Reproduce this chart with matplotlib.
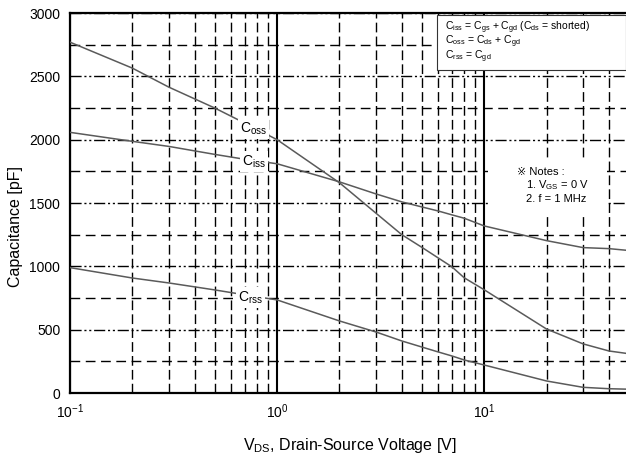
import matplotlib
matplotlib.use('Agg')
import matplotlib.pyplot as plt
from matplotlib.ticker import MultipleLocator, LogLocator, NullFormatter

plt.rcParams['font.family'] = ['Liberation Sans', 'DejaVu Sans']
plt.rcParams['mathtext.default'] = 'regular'

# values
voltage = [0.1, 0.2, 0.3, 0.5, 0.7, 1, 2, 3, 4, 5, 6, 7, 8, 10, 20, 30, 40, 50]
c_oss = [2770, 2565, 2415, 2250, 2130, 2000, 1660, 1420, 1250, 1150, 1066, 995, 910, 815, 505, 388, 332, 310]
c_iss = [2058, 1987, 1947, 1884, 1845, 1810, 1667, 1572, 1509, 1469, 1437, 1406, 1380, 1319, 1203, 1148, 1140, 1125]
c_rss = [990, 908, 869, 814, 775, 735, 569, 482, 411, 363, 324, 292, 261, 221, 95, 45, 34, 30]

labels = ['C$_{oss}$', 'C$_{iss}$', 'C$_{rss}$']
label_pos = [(0.77, 2085), (0.77, 1828), (0.745, 752)]

fig = plt.figure(figsize=(6.26, 4.57), dpi=100)
ax = fig.add_axes([0.1118, 0.140, 0.893, 0.8315])

# curves
for serie in (c_oss, c_iss, c_rss):
    ax.plot(voltage, serie, color='#5a5a5a', lw=1.1, zorder=3)

ax.set_xscale('log')
ax.set_xlim(0.1, 50)
ax.set_ylim(0, 3000)

ax.yaxis.set_major_locator(MultipleLocator(500))
ax.yaxis.set_minor_locator(MultipleLocator(250))
ax.xaxis.set_major_locator(LogLocator(base=10))
ax.xaxis.set_minor_locator(LogLocator(base=10, subs=range(2, 10)))
ax.xaxis.set_minor_formatter(NullFormatter())

# grid, datasheet style
ax.grid(which='major', axis='x', color='black', lw=1.5, ls='-')
ax.grid(which='minor', axis='x', color='black', lw=1.0, ls=(0, (7, 3)))
ax.grid(which='major', axis='y', color='black', lw=1.0, ls=(0, (8, 2, 1.5, 2, 1.5, 2)))
ax.grid(which='minor', axis='y', color='black', lw=1.0, ls=(0, (7, 4)))

ax.tick_params(which='both', length=0, labelsize=10, pad=7)
for sp in ax.spines.values():
    sp.set_linewidth(1.6)

# curve labels (white box hides the line under it)
for lab, (px, py) in zip(labels, label_pos):
    ax.text(px, py, lab, fontsize=10, ha='center', va='center', zorder=5,
            bbox=dict(facecolor='white', edgecolor='none', pad=1.5))

# formula box
formulas = ['C$_{iss}$ = C$_{gs}$ + C$_{gd}$ (C$_{ds}$ = shorted)',
            'C$_{oss}$ = C$_{ds}$ + C$_{gd}$',
            'C$_{rss}$ = C$_{gd}$']
for f, yy in zip(formulas, [0.962, 0.923, 0.884]):
    ax.text(0.671, yy, f, transform=ax.transAxes, fontsize=7.5, va='center', zorder=6)
box = plt.Rectangle((0.657, 0.85), 0.338, 0.145, transform=ax.transAxes,
                    facecolor='white', edgecolor='#333333', lw=0.8, zorder=5)
ax.add_patch(box)

# notes
notes = plt.Rectangle((0.748, 0.475), 0.212, 0.14, transform=ax.transAxes,
                      facecolor='white', edgecolor='none', zorder=5)
ax.add_patch(notes)
ax.text(0.8, 0.582, '※ Notes :', transform=ax.transAxes, fontsize=8, va='center', zorder=6)
ax.text(0.815, 0.548, '1. V$_{GS}$ = 0 V', transform=ax.transAxes, fontsize=8, va='center', zorder=6)
ax.text(0.815, 0.51, '2. f = 1 MHz', transform=ax.transAxes, fontsize=8, va='center', zorder=6)

fig.text(0.559, 0.026, 'V$_{DS}$, Drain-Source Voltage [V]', fontsize=11.5, ha='center', va='center')
fig.text(0.024, 0.505, 'Capacitance [pF]', fontsize=11.5, rotation=90, ha='center', va='center')

fig.savefig('out.png', dpi=100)
